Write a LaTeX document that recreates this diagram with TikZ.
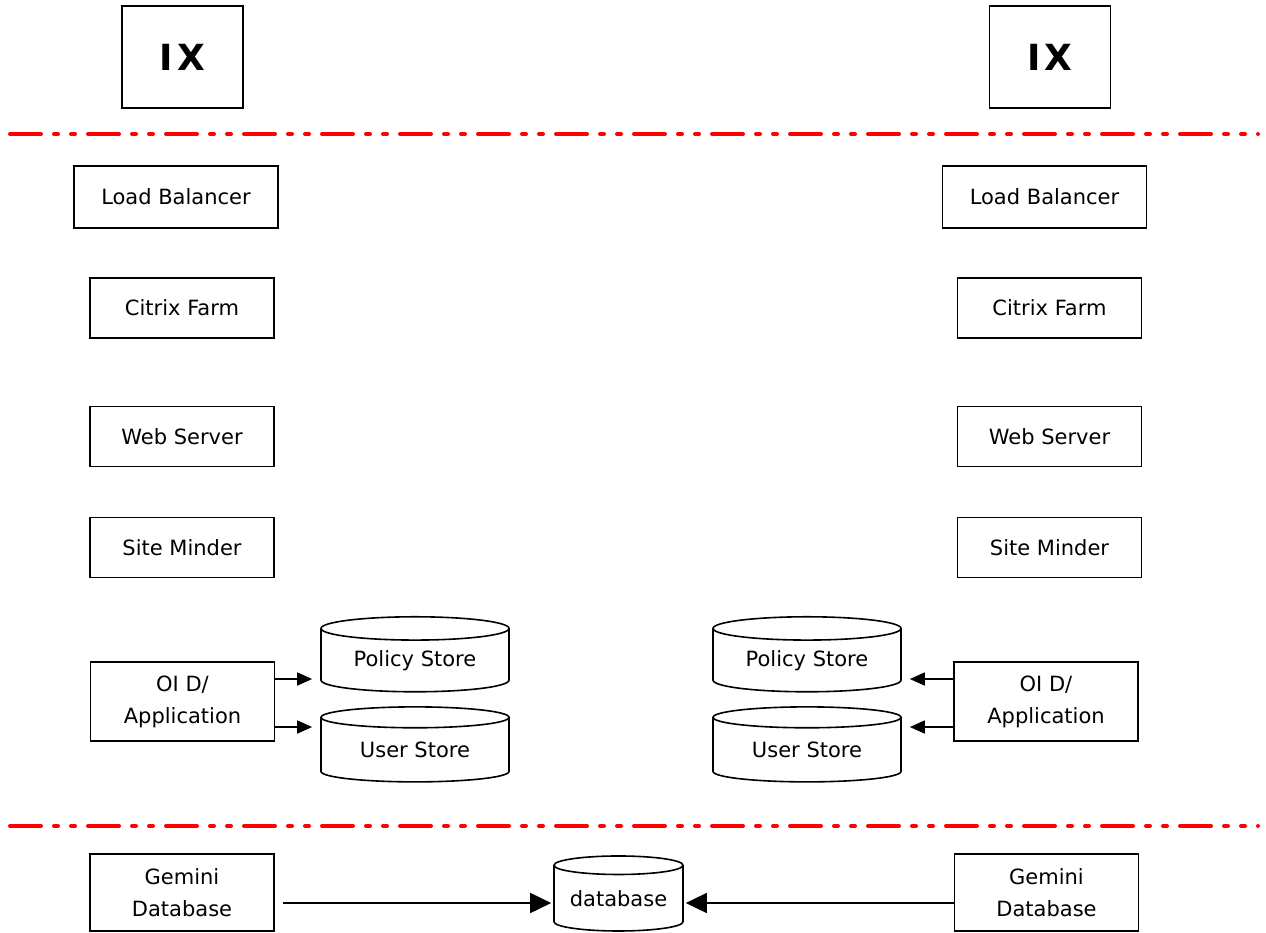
\documentclass[tikz,border=0pt]{standalone}
\usepackage{fontspec}
\setmainfont{DejaVu Sans}
\usetikzlibrary{shapes.geometric,arrows.meta}
\begin{document}
\begin{tikzpicture}[x=1pt,y=-1pt,
  every node/.style={font=\fontsize{21}{32}\selectfont},
  box/.style={draw,line width=1.6pt,inner sep=0pt,align=center,minimum width=184pt,minimum height=60pt},
  store/.style={draw,line width=1.6pt,cylinder,shape border rotate=90,aspect=0.19,inner sep=0pt,minimum width=188pt,minimum height=75pt},
  zone/.style={red,line width=4pt,line cap=round,dash pattern=on 31pt off 13pt on 4pt off 13pt on 4pt off 13pt},
  feed/.style={line width=1.6pt,-{Triangle[length=15pt,width=13pt]},shorten >=8pt},
  sync/.style={line width=1.6pt,-{Triangle[length=21pt,width=20pt]},shorten >=2pt}]
  \useasboundingbox (0,0) rectangle (1266,932);
  % zone borders
  \draw [zone] (10,134) -- (1258,134);
  \draw [zone] (10,826) -- (1258,826);
  % left side
  \node [box,minimum width=121pt,minimum height=102pt,font=\fontsize{36}{40}\selectfont\bfseries\addfontfeature{LetterSpace=12}] (ixL) at (182.5,57) {IX};
  \node [box,minimum width=204pt,minimum height=62pt] (lbL) at (176,197) {Load Balancer};
  \node [box] (cfL) at (182,308) {Citrix Farm};
  \node [box] (wsL) at (182,436.5) {Web Server};
  \node [box] (smL) at (182,547.5) {Site Minder};
  \node [box,minimum height=79pt] (oidL) at (182.5,701.5) {OI D/\\Application};
  \node [store] (psL) at (415,660.5) {Policy Store};
  \node [store] (usL) at (415,750) {User Store};
  \draw [feed] (oidL.east |- 0,679) -- (psL.west |- 0,679);
  \draw [feed] (oidL.east |- 0,727) -- (usL.west |- 0,727);
  % right side
  \node [box,minimum width=121pt,minimum height=102pt,font=\fontsize{36}{40}\selectfont\bfseries\addfontfeature{LetterSpace=12}] (ixR) at (1050,57) {IX};
  \node [box,minimum width=204pt,minimum height=62pt] (lbR) at (1044.5,197) {Load Balancer};
  \node [box] (cfR) at (1049.5,308) {Citrix Farm};
  \node [box] (wsR) at (1049.5,436.5) {Web Server};
  \node [box] (smR) at (1049.5,547.5) {Site Minder};
  \node [box,minimum height=79pt] (oidR) at (1046,701.5) {OI D/\\Application};
  \node [store] (psR) at (807,660.5) {Policy Store};
  \node [store] (usR) at (807,750) {User Store};
  \draw [feed] (oidR.west |- 0,679) -- (psR.east |- 0,679);
  \draw [feed] (oidR.west |- 0,727) -- (usR.east |- 0,727);
  % database zone
  \node [box,minimum height=77pt] (gemL) at (182,892.5) {Gemini\\Database};
  \node [box,minimum height=77pt] (gemR) at (1046.5,892.5) {Gemini\\Database};
  \node [store,minimum width=129pt] (db) at (618.5,898.5) {database};
  \draw [sync,shorten <=8pt] (gemL.east |- 0,903) -- (db.west |- 0,903);
  \draw [sync] (gemR.west |- 0,903) -- (db.east |- 0,903);
\end{tikzpicture}
\end{document}
